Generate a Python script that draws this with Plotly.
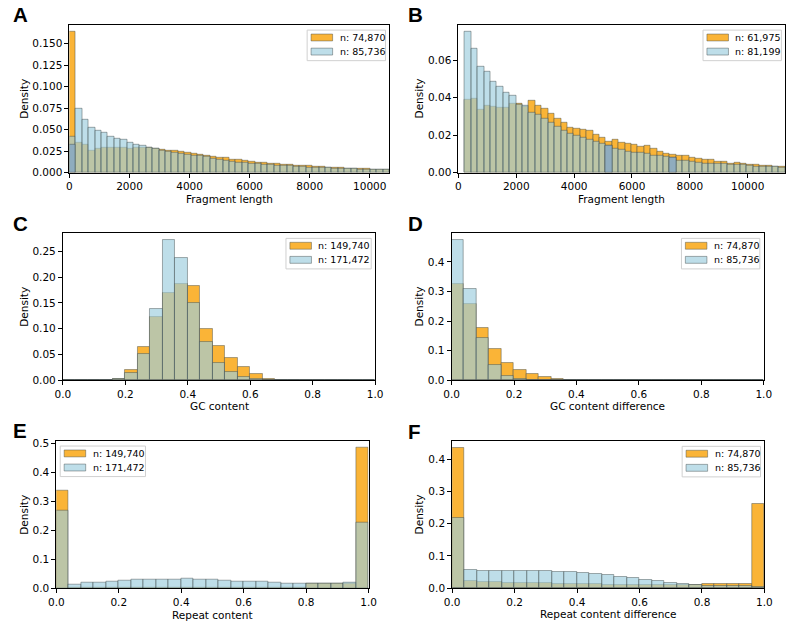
import plotly.graph_objects as go

W, H = 794, 626

# ---- values ----
# A: fragment length, 50 bins
a_lo, a_hi = 0, 10655
a_orange = [0.164, 0.035, 0.0325, 0.026, 0.0275, 0.0285, 0.029, 0.0285, 0.0285, 0.028,
            0.0285, 0.0285, 0.029, 0.028, 0.027, 0.026, 0.025, 0.0238, 0.0228, 0.0218,
            0.0208, 0.0198, 0.0188, 0.0178, 0.0168, 0.0155, 0.0145, 0.0135, 0.0127, 0.012,
            0.0113, 0.0107, 0.010, 0.0095, 0.009, 0.0085, 0.008, 0.0075, 0.007, 0.0066,
            0.0062, 0.0058, 0.0054, 0.005, 0.0046, 0.0043, 0.004, 0.0037, 0.0034, 0.0032]
a_blue = [0.042, 0.074, 0.062, 0.052, 0.049, 0.046, 0.042, 0.039, 0.038, 0.035,
          0.032, 0.031, 0.0285, 0.0275, 0.026, 0.0245, 0.023, 0.022, 0.021, 0.020,
          0.0193, 0.018, 0.0166, 0.0152, 0.014, 0.013, 0.012, 0.0113, 0.0107, 0.0101,
          0.0095, 0.009, 0.0085, 0.008, 0.0075, 0.007, 0.0066, 0.0062, 0.0058, 0.0055,
          0.0052, 0.0049, 0.0046, 0.0043, 0.004, 0.0038, 0.0036, 0.0034, 0.0032, 0.003]
a_dark_bins = [0]
a_dark_vals = [0.0324]
a_labels = ["n: 74,870", "n: 85,736"]

# B: fragment length, 50 bins
b_lo, b_hi = 220, 11300
b_orange = [0.0389, 0.0394, 0.0336, 0.0355, 0.035, 0.0348, 0.0348, 0.037, 0.0368, 0.035,
            0.0383, 0.0359, 0.0341, 0.0313, 0.0289, 0.0264, 0.0239, 0.0236, 0.0229, 0.0225,
            0.0205, 0.0185, 0.0165, 0.0178, 0.0162, 0.0153, 0.015, 0.0137, 0.0141, 0.0125,
            0.0114, 0.0102, 0.0093, 0.0088, 0.0088, 0.0079, 0.0074, 0.0067, 0.0067, 0.0056,
            0.0056, 0.0049, 0.0051, 0.0046, 0.0042, 0.004, 0.0039, 0.0035, 0.0032, 0.003]
b_blue = [0.0753, 0.0663, 0.0565, 0.0542, 0.0484, 0.0457, 0.0427, 0.041, 0.0365, 0.036,
          0.0322, 0.0308, 0.0289, 0.0264, 0.0243, 0.0225, 0.021, 0.0197, 0.0185, 0.0175,
          0.0163, 0.0152, 0.0142, 0.013, 0.012, 0.0113, 0.0104, 0.0104, 0.0102, 0.0088,
          0.0088, 0.0084, 0.0082, 0.0063, 0.0063, 0.0058, 0.0053, 0.0049, 0.0049, 0.0046,
          0.0046, 0.0042, 0.0042, 0.004, 0.0035, 0.0033, 0.0033, 0.0032, 0.003, 0.0028]
b_dark_bins = [22, 32]
b_dark_vals = [0.0142, 0.0082]
b_labels = ["n: 61,975", "n: 81,199"]

# C-F: 25 bins on [0, 1]
c_orange = [0, 0, 0, 0.0004, 0.003, 0.0197, 0.065, 0.123, 0.170, 0.186, 0.182, 0.100, 0.066,
            0.043, 0.025, 0.012, 0.0015, 0.0003, 0, 0, 0, 0, 0, 0, 0]
c_blue = [0, 0, 0, 0.0005, 0.0025, 0.0134, 0.051, 0.138, 0.272, 0.237, 0.150, 0.075, 0.033,
          0.0165, 0.006, 0.002, 0.0008, 0.0002, 0, 0, 0, 0, 0, 0, 0]
c_labels = ["n: 149,740", "n: 171,472"]

d_orange = [0.324, 0.258, 0.176, 0.107, 0.058, 0.034, 0.022, 0.011, 0.0044, 0.001,
            0, 0, 0, 0, 0, 0, 0, 0, 0, 0, 0, 0, 0, 0, 0]
d_blue = [0.474, 0.309, 0.142, 0.053, 0.0144, 0.003, 0.001, 0.0003, 0, 0,
          0, 0, 0, 0, 0, 0, 0, 0, 0, 0, 0, 0, 0, 0, 0]
d_labels = ["n: 74,870", "n: 85,736"]

e_orange = [0.339, 0.002, 0.002, 0.002, 0.002, 0.002, 0.002, 0.002, 0.002, 0.002,
            0.002, 0.002, 0.002, 0.002, 0.002, 0.002, 0.002, 0.002, 0.002, 0.002,
            0.0155, 0.0155, 0.0155, 0.0155, 0.486]
e_blue = [0.268, 0.015, 0.0204, 0.0215, 0.0238, 0.0272, 0.0306, 0.0317, 0.0306, 0.0295,
          0.0329, 0.0317, 0.0295, 0.026, 0.025, 0.0238, 0.0227, 0.0204, 0.0181, 0.017,
          0.017, 0.0159, 0.0159, 0.0193, 0.226]
e_labels = ["n: 149,740", "n: 171,472"]

f_orange = [0.435, 0.0234, 0.0203, 0.018, 0.017, 0.016, 0.015, 0.015, 0.0132, 0.012,
            0.012, 0.012, 0.011, 0.011, 0.0102, 0.0102, 0.0102, 0.0091, 0.0091, 0.0102,
            0.0122, 0.0122, 0.0122, 0.012, 0.260]
f_blue = [0.219, 0.0558, 0.0528, 0.0538, 0.0548, 0.0548, 0.0548, 0.0538, 0.0518, 0.0497,
          0.0467, 0.0437, 0.0396, 0.0345, 0.0315, 0.0254, 0.0213, 0.0162, 0.0132, 0.0102,
          0.0081, 0.0071, 0.006, 0.006, 0.004]
f_labels = ["n: 74,870", "n: 85,736"]

# ---- styling ----
ORANGE = "rgb(250,180,55)"
BLUE = "rgba(158,206,222,0.667)"
BLUE_PATCH = "rgb(190,222,233)"
DARK = "rgb(143,172,190)"
EDGE = "rgba(60,70,70,0.55)"
FONT = "DejaVu Sans"

panels = [
    # box is the plot frame in pixels (left, top, right, bottom)
    dict(letter="A", orange=a_orange, blue=a_blue, dark=(a_dark_bins, a_dark_vals), lo=a_lo, hi=a_hi,
         xlabel="Fragment length", box=(62.7, 22, 389.3, 172), xt=[0, 2000, 4000, 6000, 8000, 10000],
         xfmt="{:.0f}", yt=[0, 0.025, 0.05, 0.075, 0.1, 0.125, 0.15], yfmt="{:.3f}", labels=a_labels, side="r"),
    dict(letter="B", orange=b_orange, blue=b_blue, dark=(b_dark_bins, b_dark_vals), lo=b_lo, hi=b_hi,
         xlabel="Fragment length", box=(459.7, 22, 793.3, 172), xt=[0, 2000, 4000, 6000, 8000, 10000],
         xfmt="{:.0f}", yt=[0, 0.02, 0.04, 0.06], yfmt="{:.2f}", labels=b_labels, side="r", xmin=0),
    dict(letter="C", orange=c_orange, blue=c_blue, dark=None, lo=0, hi=1,
         xlabel="GC content", box=(56, 233.3, 374.7, 382.7), xt=[0, 0.2, 0.4, 0.6, 0.8, 1.0],
         xfmt="{:.1f}", yt=[0, 0.05, 0.1, 0.15, 0.2, 0.25], yfmt="{:.2f}", labels=c_labels, side="r"),
    dict(letter="D", orange=d_orange, blue=d_blue, dark=None, lo=0, hi=1,
         xlabel="GC content difference", box=(452.7, 233.3, 771.3, 382.7), xt=[0, 0.2, 0.4, 0.6, 0.8, 1.0],
         xfmt="{:.1f}", yt=[0, 0.1, 0.2, 0.3, 0.4], yfmt="{:.1f}", labels=d_labels, side="r"),
    dict(letter="E", orange=e_orange, blue=e_blue, dark=None, lo=0, hi=1,
         xlabel="Repeat content", box=(49.3, 444, 368, 594), xt=[0, 0.2, 0.4, 0.6, 0.8, 1.0],
         xfmt="{:.1f}", yt=[0, 0.1, 0.2, 0.3, 0.4, 0.5], yfmt="{:.1f}", labels=e_labels, side="l"),
    dict(letter="F", orange=f_orange, blue=f_blue, dark=None, lo=0, hi=1,
         xlabel="Repeat content difference", box=(453.3, 444.3, 772, 593.7), xt=[0, 0.2, 0.4, 0.6, 0.8, 1.0],
         xfmt="{:.1f}", yt=[0, 0.1, 0.2, 0.3, 0.4], yfmt="{:.1f}", labels=f_labels, side="r"),
]


def px(x):
    return x / W


def py(y):
    return 1 - y / H


fig = go.Figure()
shapes = []
annotations = []
layout = {}

for i, p in enumerate(panels, start=1):
    xa = "x" if i == 1 else f"x{i}"
    ya = "y" if i == 1 else f"y{i}"
    n = len(p["orange"])
    w = (p["hi"] - p["lo"]) / n
    lefts = [p["lo"] + k * w for k in range(n)]

    for vals, col in ((p["orange"], ORANGE), (p["blue"], BLUE)):
        fig.add_trace(go.Bar(x=lefts, y=vals, width=[w] * n, offset=0, xaxis=xa, yaxis=ya,
                             marker=dict(color=col, line=dict(color=EDGE, width=0.8)),
                             showlegend=False, hoverinfo="skip"))
    if p["dark"]:
        bins, vals = p["dark"]
        fig.add_trace(go.Bar(x=[lefts[b] for b in bins], y=vals, width=[w] * len(bins), offset=0,
                             xaxis=xa, yaxis=ya,
                             marker=dict(color=DARK, line=dict(color=EDGE, width=0.8)),
                             showlegend=False, hoverinfo="skip"))

    l, t, r, b = p["box"]
    ymax = 1.05 * max(max(p["orange"]), max(p["blue"]))
    xmin = p.get("xmin", p["lo"])
    common = dict(showline=True, linecolor="black", linewidth=1, mirror=True, showgrid=False,
                  zeroline=False, ticks="outside", ticklen=4, tickwidth=1, tickcolor="black",
                  tickfont=dict(family=FONT, size=10.5, color="black"))
    layout["xaxis" if i == 1 else f"xaxis{i}"] = dict(
        domain=[px(l), px(r)], anchor=ya, range=[xmin, p["hi"]],
        tickvals=p["xt"], ticktext=[p["xfmt"].format(v) for v in p["xt"]], **common)
    layout["yaxis" if i == 1 else f"yaxis{i}"] = dict(
        domain=[py(b), py(t)], anchor=xa, range=[0, ymax],
        tickvals=p["yt"], ticktext=[p["yfmt"].format(v) for v in p["yt"]], **common)

    # panel letter
    lx = 3 if l < 300 else 406
    annotations.append(dict(x=px(lx), y=py(t - 10), xref="paper", yref="paper", text=f"<b>{p['letter']}</b>",
                            showarrow=False, xanchor="left", yanchor="middle",
                            font=dict(family="Liberation Sans", size=20.5, color="black")))
    # axis titles
    annotations.append(dict(x=px((l + r) / 2), y=py(b + 26.5), xref="paper", yref="paper", text=p["xlabel"],
                            showarrow=False, xanchor="center", yanchor="middle",
                            font=dict(family=FONT, size=10.5, color="black")))
    annotations.append(dict(x=px(15.5 if l < 300 else 419.3), y=py((t + b) / 2), xref="paper", yref="paper",
                            text="Density", textangle=-90, showarrow=False, xanchor="center", yanchor="middle",
                            font=dict(family=FONT, size=10.5, color="black")))

    # legend, drawn by hand to get matplotlib-style patches
    bw = 17 + 7 * max(len(s) for s in p["labels"])
    bh = 31
    if p["side"] == "r":
        bx1 = r - 4
        bx0 = bx1 - bw
    else:
        bx0 = l + 4
        bx1 = bx0 + bw
    by0 = t + 5.5
    shapes.append(dict(type="rect", xref="paper", yref="paper", x0=px(bx0), x1=px(bx1), y0=py(by0 + bh), y1=py(by0),
                       line=dict(color="#d0d0d0", width=1), fillcolor="rgba(255,255,255,0.85)", layer="above"))
    for k, (lab, col) in enumerate(zip(p["labels"], (ORANGE, BLUE_PATCH))):
        cy = by0 + 7.5 + k * 14.3
        shapes.append(dict(type="rect", xref="paper", yref="paper", x0=px(bx0 + 4), x1=px(bx0 + 26),
                           y0=py(cy + 3.5), y1=py(cy - 3.5), line=dict(color=EDGE, width=0.8),
                           fillcolor=col, layer="above"))
        annotations.append(dict(x=px(bx0 + 31), y=py(cy), xref="paper", yref="paper", text=lab,
                                showarrow=False, xanchor="left", yanchor="middle",
                                font=dict(family=FONT, size=9.5, color="black")))

fig.update_layout(width=W, height=H, margin=dict(l=0, r=0, t=0, b=0), plot_bgcolor="white",
                  paper_bgcolor="white", barmode="overlay", bargap=0, showlegend=False,
                  shapes=shapes, annotations=annotations, **layout)

# the page's default body margin would push the figure 8px off the window
fig.write_html("out.html", config={"displayModeBar": False},
               post_script="document.body.style.margin = '0';")
